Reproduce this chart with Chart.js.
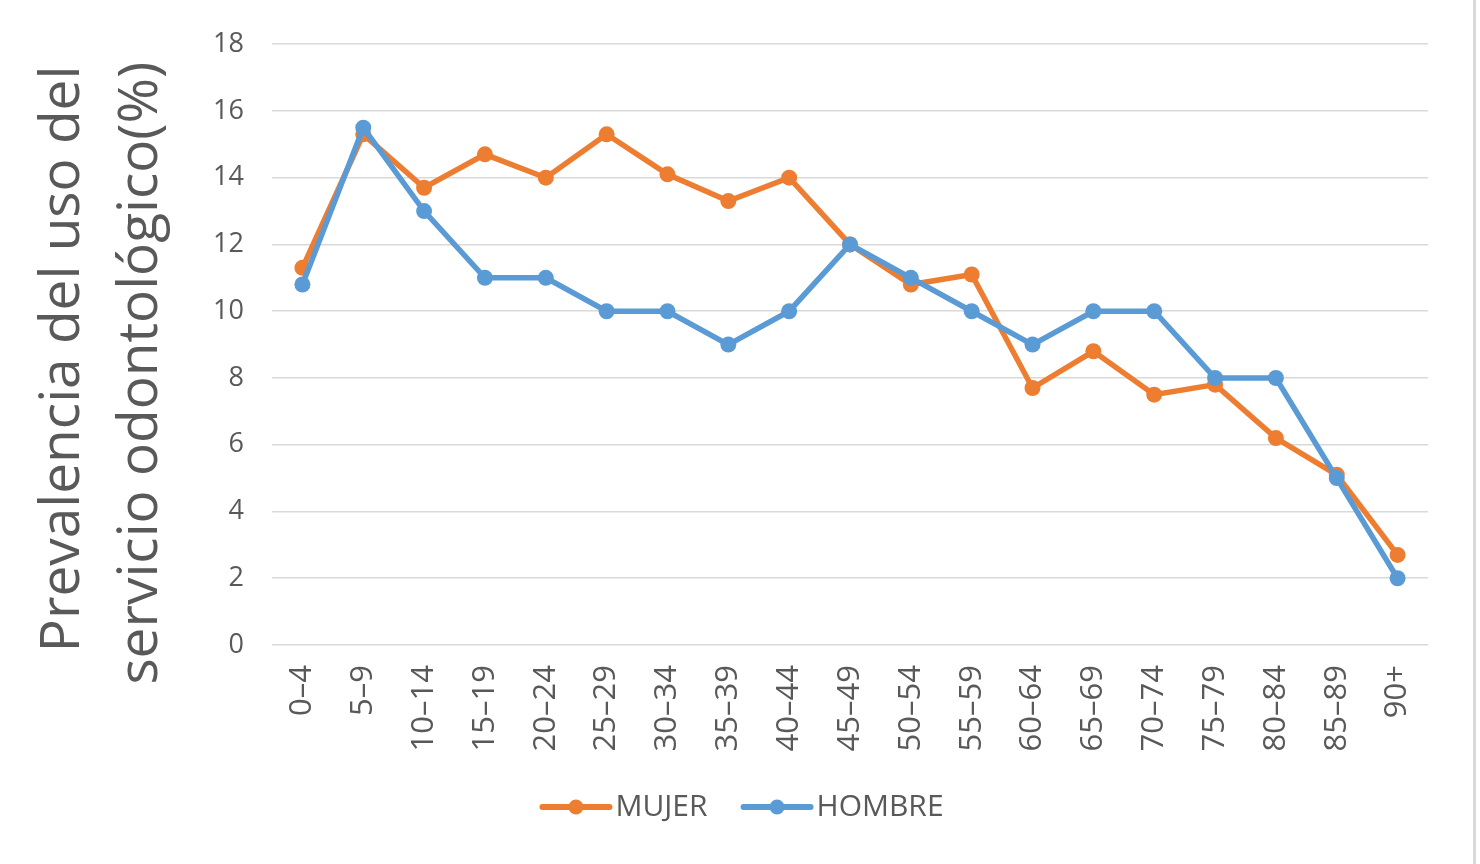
<!DOCTYPE html>
<html>
  <head>
    <title>Prevalencia del uso del servicio odontológico</title>
    <script src="https://cdn.jsdelivr.net/npm/chart.js@4.4.1/dist/chart.umd.min.js"></script>
    <style>
      body {
        margin: 0;
        background: #fff;
      }

      .wrap {
        position: relative;
        width: 1480px;
        height: 864px;
      }

      .edge {
        position: absolute;
        left: 1473px;
        top: 0;
        width: 3px;
        height: 864px;
        background: #d9d9d9;
      }
    </style>
  </head>
  <body>
    <div class="wrap">
      <canvas id="chart"></canvas>
      <div class="edge"></div>
    </div>

    <script>
      const ageGroups = [
        "0–4", "5–9", "10–14", "15–19", "20–24", "25–29", "30–34",
        "35–39", "40–44", "45–49", "50–54", "55–59", "60–64", "65–69",
        "70–74", "75–79", "80–84", "85–89", "90+",
      ];
      const mujer = [
        11.3, 15.3, 13.7, 14.7, 14.0, 15.3, 14.1, 13.3, 14.0, 12.0,
        10.8, 11.1, 7.7, 8.8, 7.5, 7.8, 6.2, 5.1, 2.7,
      ];
      const hombre = [
        10.8, 15.5, 13.0, 11.0, 11.0, 10.0, 10.0, 9.0, 10.0, 12.0,
        11.0, 10.0, 9.0, 10.0, 10.0, 8.0, 8.0, 5.0, 2.0,
      ];
      const yTicks = [0, 2, 4, 6, 8, 10, 12, 14, 16, 18];

      const textColor = "#595959";
      const font = "'Open Sans', sans-serif";

      // legend marker: short line with a dot in the middle,
      // and the legend centred on the whole canvas
      const legendMarks = {
        id: "legendMarks",
        afterLayout(chart) {
          const legend = chart.legend;
          legend.left = 0;
          legend.right = chart.width;
          legend.width = chart.width;
        },
        afterDraw(chart) {
          const legend = chart.legend;
          if (!legend || !legend.legendHitBoxes) return;
          const ctx = chart.ctx;
          legend.legendItems.forEach((item, i) => {
            const box = legend.legendHitBoxes[i];
            const color = chart.data.datasets[item.datasetIndex].borderColor;
            const y = box.top + box.height / 2;
            const x0 = box.left + 3;
            const x1 = box.left + 76;
            ctx.save();
            ctx.strokeStyle = color;
            ctx.fillStyle = color;
            ctx.lineWidth = 6;
            ctx.lineCap = "round";
            ctx.beginPath();
            ctx.moveTo(x0 + 3, y);
            ctx.lineTo(x1 - 3, y);
            ctx.stroke();
            ctx.beginPath();
            ctx.arc((x0 + x1) / 2, y, 7.5, 0, Math.PI * 2);
            ctx.fill();
            ctx.restore();
          });
        },
      };

      new Chart("chart", {
        type: "line",
        data: {
          labels: ageGroups,
          datasets: [
            {
              label: "MUJER",
              data: mujer,
              borderColor: "#ed7d31",
              backgroundColor: "#ed7d31",
              borderWidth: 5.5,
              pointRadius: 8,
              pointBorderWidth: 0,
              tension: 0,
              order: 1,
            },
            {
              label: "HOMBRE",
              data: hombre,
              borderColor: "#5b9bd5",
              backgroundColor: "#5b9bd5",
              borderWidth: 5.5,
              pointRadius: 8,
              pointBorderWidth: 0,
              tension: 0,
              order: 0,
            },
          ],
        },
        options: {
          responsive: true,
          maintainAspectRatio: false,
          animation: false,
          layout: {
            padding: { left: 24, right: 52, top: 44, bottom: 32 },
          },
          plugins: {
            tooltip: { enabled: false },
            legend: {
              position: "bottom",
              labels: {
                color: textColor,
                font: { family: font, size: 30 },
                boxWidth: 64,
                boxHeight: 0,
                padding: 30,
                sort: (a, b) => a.datasetIndex - b.datasetIndex,
                generateLabels(chart) {
                  return chart.data.datasets.map((ds, i) => ({
                    text: ds.label,
                    datasetIndex: i,
                    fillStyle: "rgba(0,0,0,0)",
                    strokeStyle: "rgba(0,0,0,0)",
                    lineWidth: 0,
                    fontColor: textColor,
                  }));
                },
              },
            },
          },
          scales: {
            x: {
              offset: true,
              grid: { display: false },
              border: { display: false },
              ticks: {
                color: textColor,
                font: { family: font, size: 31 },
                maxRotation: 90,
                minRotation: 90,
                padding: 12,
              },
              afterFit(scale) {
                scale.height = 117;
              },
            },
            y: {
              min: 0,
              max: 18,
              afterBuildTicks(scale) {
                scale.ticks = yTicks.map((v) => ({ value: v }));
              },
              grid: {
                color: "#d9d9d9",
                lineWidth: 1.5,
                drawTicks: false,
              },
              border: { display: false },
              ticks: {
                color: textColor,
                font: { family: font, size: 27 },
                padding: 28,
              },
              title: {
                display: true,
                // trailing spaces nudge the rotated lines down a little
                text: ["Prevalencia del uso del  ", "servicio odontológico(%)    "],
                color: textColor,
                font: { family: font, size: 55, lineHeight: 1.42 },
                padding: 0,
              },
              afterFit(scale) {
                scale.width = 248;
              },
            },
          },
        },
        plugins: [legendMarks],
      });
    </script>
  </body>
</html>
